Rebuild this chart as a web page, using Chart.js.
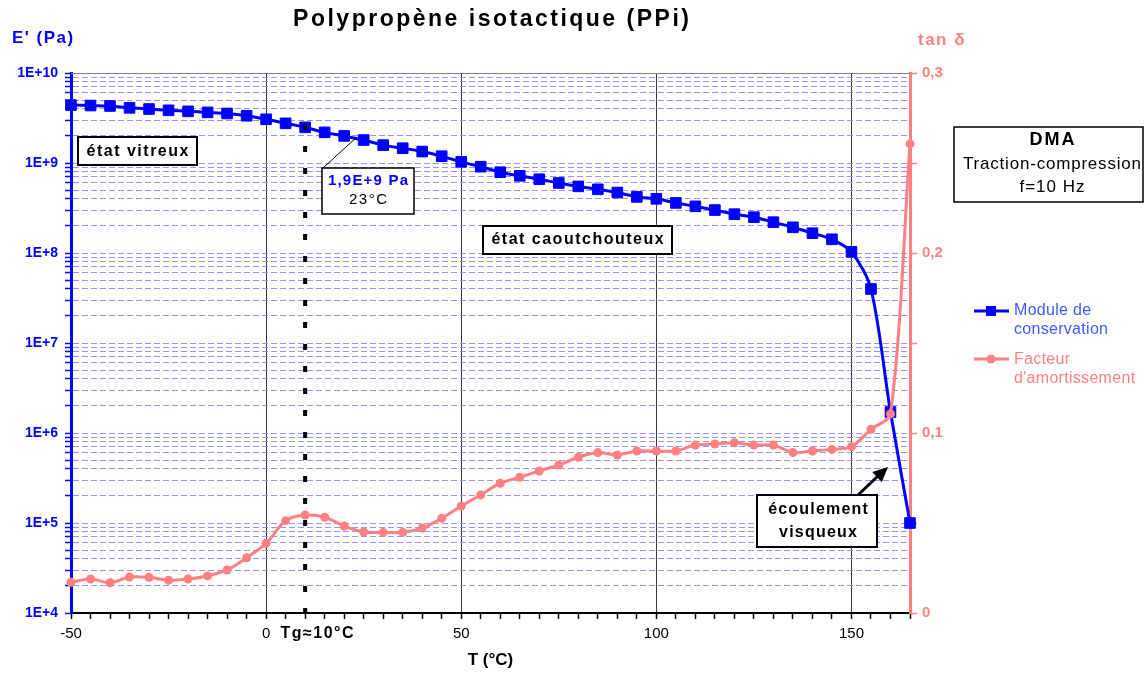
<!DOCTYPE html>
<html>
<head>
<meta charset="utf-8">
<title>Polypropène isotactique (PPi)</title>
<script src="https://cdn.jsdelivr.net/npm/chart.js@4.4.1/dist/chart.umd.min.js"></script>
<style>
  html, body { margin: 0; padding: 0; background: #fff; }
  canvas { display: block; }
</style>
</head>
<body>
<canvas id="dmaChart" width="1146" height="677"></canvas>
<script>
// temperature (°C), one measure every 5 °C
const temperatures = [-50, -45, -40, -35, -30, -25, -20, -15, -10, -5, 0, 5, 10, 15, 20, 25, 30, 35, 40, 45,
  50, 55, 60, 65, 70, 75, 80, 85, 90, 95, 100, 105, 110, 115, 120, 125, 130, 135, 140, 145, 150, 155, 160, 165];

// module de conservation E' (Pa)
const storageModulus = [4.4e9, 4.35e9, 4.3e9, 4.1e9, 3.98e9, 3.85e9, 3.75e9, 3.65e9, 3.55e9, 3.35e9,
  3.06e9, 2.76e9, 2.49e9, 2.19e9, 2.0e9, 1.8e9, 1.58e9, 1.46e9, 1.34e9, 1.19e9,
  1.03e9, 9.1e8, 7.9e8, 7.2e8, 6.6e8, 6.0e8, 5.5e8, 5.1e8, 4.7e8, 4.2e8,
  4.0e8, 3.6e8, 3.3e8, 3.0e8, 2.7e8, 2.5e8, 2.2e8, 1.93e8, 1.66e8, 1.42e8,
  1.03e8, 3.98e7, 1.71e6, 1.0e5];

// facteur d'amortissement tan delta
const tanDelta = [0.0171, 0.0189, 0.0168, 0.0200, 0.0198, 0.0182, 0.0189, 0.0206, 0.0239, 0.0307,
  0.0387, 0.0513, 0.0544, 0.0532, 0.0483, 0.0450, 0.0448, 0.0448, 0.0472, 0.0526,
  0.0594, 0.0656, 0.0721, 0.0754, 0.0789, 0.0822, 0.0865, 0.0891, 0.0878, 0.0900,
  0.0900, 0.0900, 0.0933, 0.0939, 0.0946, 0.0933, 0.0933, 0.0891, 0.0900, 0.0909,
  0.0924, 0.1021, 0.1106, 0.2606];

// axes
const tempLabels = [-50, 0, 50, 100, 150];
const modulusDecades = [1e4, 1e5, 1e6, 1e7, 1e8, 1e9, 1e10];
const tanLabels = [0, 0.1, 0.2, 0.3];

const BLUE = '#0000ff';
const SALMON = '#ff8080';
const GRID = '#9595ff';
const FONT = "'Liberation Sans', Arial, sans-serif";

Chart.defaults.font.family = FONT;

// every 1..9 x 10^n between the decades
const modulusTicks = [];
modulusDecades.forEach((d, i) => {
  if (i === modulusDecades.length - 1) { modulusTicks.push(d); return; }
  for (let m = 1; m <= 9; m++) modulusTicks.push(d * m);
});

function txt(ctx, s, x, y, font, color, align, spacing) {
  ctx.save();
  ctx.font = font;
  ctx.fillStyle = color;
  ctx.textAlign = align || 'center';
  ctx.textBaseline = 'middle';
  spacing = spacing || 0;
  if ('letterSpacing' in ctx) ctx.letterSpacing = spacing + 'px';
  const dx = (align === 'center' || !align) ? spacing / 2 : 0;
  ctx.fillText(s, x + dx, y);
  ctx.restore();
}

function box(ctx, x, y, w, h, lw) {
  ctx.save();
  ctx.fillStyle = '#fff';
  ctx.fillRect(x, y, w, h);
  ctx.lineWidth = lw;
  ctx.strokeStyle = '#000';
  ctx.strokeRect(x, y, w, h);
  ctx.restore();
}

const decorations = {
  id: 'decorations',
  afterDatasetsDraw(chart) {
    const ctx = chart.ctx;
    const xs = chart.scales.x, ys = chart.scales.y;
    // Tg dashed line
    ctx.save();
    ctx.strokeStyle = '#000';
    ctx.lineWidth = 4;
    ctx.setLineDash([6, 16]);
    const xTg = xs.getPixelForValue(10);
    ctx.beginPath();
    ctx.moveTo(xTg, 124);
    ctx.lineTo(xTg, chart.chartArea.bottom);
    ctx.stroke();
    ctx.restore();
  },
  afterDraw(chart) {
    const ctx = chart.ctx;
    const xs = chart.scales.x, ys = chart.scales.y;
    const area = chart.chartArea;

    // top frame line
    ctx.save();
    ctx.strokeStyle = '#808080';
    ctx.lineWidth = 1;
    ctx.beginPath();
    ctx.moveTo(area.left, area.top + 0.5);
    ctx.lineTo(area.right, area.top + 0.5);
    ctx.stroke();
    ctx.restore();

    txt(ctx, 'Polypropène isotactique (PPi)', 491, 20, 'bold 23px ' + FONT, '#000', 'center', 2.5);
    txt(ctx, "E' (Pa)", 12, 38, 'bold 17px ' + FONT, BLUE, 'left', 1.5);
    txt(ctx, 'tan δ', 918, 40, 'bold 17px ' + FONT, SALMON, 'left', 1.5);
    txt(ctx, 'Tg≈10°C', 317, 634, 'bold 16px ' + FONT, '#000', 'center', 1.5);

    // état vitreux
    box(ctx, 78, 137, 119, 28, 2);
    txt(ctx, 'état vitreux', 137.5, 151.5, 'bold 16px ' + FONT, '#000', 'center', 1.5);

    // état caoutchouteux
    box(ctx, 483, 226, 189, 28, 2);
    txt(ctx, 'état caoutchouteux', 577.5, 240, 'bold 16px ' + FONT, '#000', 'center', 1.5);

    // 1,9E+9 Pa leader
    ctx.save();
    ctx.strokeStyle = '#000';
    ctx.lineWidth = 1;
    ctx.beginPath();
    ctx.moveTo(323, 168);
    ctx.lineTo(xs.getPixelForValue(23), ys.getPixelForValue(1.9e9));
    ctx.stroke();
    ctx.restore();
    box(ctx, 322, 168, 92, 46, 1.5);
    txt(ctx, '1,9E+9 Pa', 368, 181, 'bold 15px ' + FONT, BLUE, 'center', 1.2);
    txt(ctx, '23°C', 368, 200, '15px ' + FONT, '#000', 'center', 1.5);

    // DMA
    box(ctx, 954, 127, 189, 75, 1.5);
    txt(ctx, 'DMA', 1052, 140, 'bold 18px ' + FONT, '#000', 'center', 2);
    txt(ctx, 'Traction-compression', 1052, 164, '17px ' + FONT, '#000', 'center', 0.8);
    txt(ctx, 'f=10 Hz', 1052, 187, '17px ' + FONT, '#000', 'center', 1);

    // écoulement visqueux + arrow
    ctx.save();
    ctx.strokeStyle = '#000';
    ctx.fillStyle = '#000';
    ctx.lineWidth = 3;
    ctx.beginPath();
    ctx.moveTo(858, 495);
    ctx.lineTo(878, 476);
    ctx.stroke();
    const ang = Math.atan2(467 - 495, 888 - 858);
    ctx.translate(888, 467);
    ctx.rotate(ang);
    ctx.beginPath();
    ctx.moveTo(0, 0);
    ctx.lineTo(-15, -7);
    ctx.lineTo(-15, 7);
    ctx.closePath();
    ctx.fill();
    ctx.restore();
    box(ctx, 757, 495, 120, 52, 2);
    txt(ctx, 'écoulement', 818, 510, 'bold 16px ' + FONT, '#000', 'center', 1.2);
    txt(ctx, 'visqueux', 818, 533, 'bold 16px ' + FONT, '#000', 'center', 1.2);

    // legend
    ctx.save();
    ctx.lineWidth = 3;
    ctx.strokeStyle = BLUE;
    ctx.beginPath(); ctx.moveTo(974, 311); ctx.lineTo(1009, 311); ctx.stroke();
    ctx.fillStyle = BLUE;
    ctx.fillRect(986, 306, 10, 10);
    ctx.strokeStyle = SALMON;
    ctx.beginPath(); ctx.moveTo(974, 359); ctx.lineTo(1009, 359); ctx.stroke();
    ctx.fillStyle = SALMON;
    ctx.beginPath(); ctx.arc(991, 359, 4.5, 0, Math.PI * 2); ctx.fill();
    ctx.restore();
    txt(ctx, 'Module de', 1014, 311, '16px ' + FONT, '#3a5cff', 'left', 0.3);
    txt(ctx, 'conservation', 1014, 330, '16px ' + FONT, '#3a5cff', 'left', 0.3);
    txt(ctx, 'Facteur', 1014, 360, '16px ' + FONT, SALMON, 'left', 0.3);
    txt(ctx, "d'amortissement", 1014, 379, '16px ' + FONT, SALMON, 'left', 0.3);
  }
};

new Chart(document.getElementById('dmaChart'), {
  type: 'line',
  data: {
    datasets: [
      {
        label: "Facteur d'amortissement",
        data: temperatures.map((t, i) => ({ x: t, y: tanDelta[i] })),
        yAxisID: 'y2',
        borderColor: SALMON,
        backgroundColor: SALMON,
        borderWidth: 3,
        pointStyle: 'circle',
        pointRadius: 4.5,
        pointBorderWidth: 0,
        tension: 0.3,
        clip: false,
        order: 0
      },
      {
        label: 'Module de conservation',
        data: temperatures.map((t, i) => ({ x: t, y: storageModulus[i] })),
        yAxisID: 'y',
        borderColor: BLUE,
        backgroundColor: BLUE,
        borderWidth: 3,
        pointStyle: 'rect',
        pointRadius: 7.5,
        pointBorderWidth: 1,
        tension: 0.3,
        clip: false,
        order: 1
      }
    ]
  },
  options: {
    responsive: false,
    animation: false,
    devicePixelRatio: 1,
    layout: { padding: { top: 73, left: 0, right: 0, bottom: 0 } },
    plugins: {
      legend: { display: false },
      title: { display: false },
      tooltip: { enabled: false }
    },
    scales: {
      x: {
        type: 'linear',
        min: -50,
        max: 165,
        afterFit: s => { s.height = 64; },
        ticks: {
          stepSize: 5,
          autoSkip: false,
          maxRotation: 0,
          padding: 6,
          color: '#000',
          font: { size: 15 },
          callback: v => tempLabels.includes(v) ? String(v) : ''
        },
        grid: {
          color: c => (c.tick && tempLabels.includes(c.tick.value)) ? '#3a3a3a' : 'rgba(0,0,0,0)',
          lineWidth: 1,
          tickColor: '#000',
          tickLength: 6,
          tickWidth: 1.5
        },
        border: { color: '#000', width: 2 },
        title: {
          display: true,
          text: 'T (°C)',
          color: '#000',
          font: { size: 17, weight: 'bold' },
          padding: { top: 0, bottom: 6 }
        }
      },
      y: {
        type: 'logarithmic',
        position: 'left',
        min: 1e4,
        max: 1e10,
        afterFit: s => { s.width = 71; },
        afterBuildTicks: s => { s.ticks = modulusTicks.map(v => ({ value: v })); },
        ticks: {
          autoSkip: false,
          padding: 7,
          color: BLUE,
          font: { size: 14, weight: 'bold' },
          callback: v => modulusDecades.includes(v) ? '1E+' + Math.round(Math.log10(v)) : ''
        },
        grid: {
          color: GRID,
          lineWidth: 1,
          tickColor: BLUE,
          tickLength: 6,
          tickWidth: 1.5
        },
        border: { color: BLUE, width: 3, dash: [6, 3] }
      },
      y2: {
        type: 'linear',
        position: 'right',
        min: 0,
        max: 0.3,
        afterFit: s => { s.width = 236; },
        ticks: {
          stepSize: 0.05,
          padding: 5,
          color: SALMON,
          font: { size: 15, weight: 'bold' },
          callback: v => {
            const hit = tanLabels.find(t => Math.abs(t - v) < 1e-9);
            return hit === undefined ? '' : String(hit).replace('.', ',');
          }
        },
        grid: {
          drawOnChartArea: false,
          tickColor: SALMON,
          tickLength: 7,
          tickWidth: 1.5
        },
        border: { color: SALMON, width: 3 }
      }
    }
  },
  plugins: [decorations]
});
</script>
</body>
</html>
